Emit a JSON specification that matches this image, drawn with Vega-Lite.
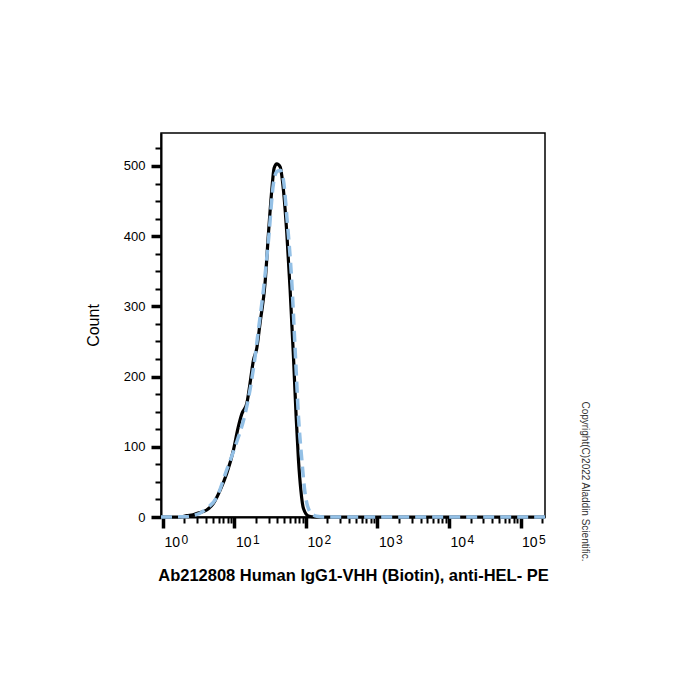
{
  "$schema": "https://vega.github.io/schema/vega-lite/v6.json",
  "width": 384,
  "height": 384,
  "autosize": "none",
  "padding": {"left": 161, "top": 133, "right": 155, "bottom": 183},
  "background": "white",
  "config": {
    "font": "Liberation Sans",
    "view": {"stroke": "black", "strokeWidth": 1.5}
  },
  "title": {
    "text": "Copyright(C)2022 Aladdin Scientific.",
    "orient": "right",
    "anchor": "end",
    "angle": 90,
    "fontSize": 10,
    "fontWeight": "normal",
    "font": "Liberation Sans",
    "color": "#333333",
    "offset": 28,
    "dx": -22
  },
  "datasets": {
    "black": [
      {"x": 0.94, "count": 0}, {"x": 1.73, "count": 0}, {"x": 2.17, "count": 2}, {"x": 2.63, "count": 3},
      {"x": 2.96, "count": 5}, {"x": 4.09, "count": 10}, {"x": 5.06, "count": 19}, {"x": 6.29, "count": 38},
      {"x": 7.8, "count": 62}, {"x": 9.66, "count": 95}, {"x": 11.3, "count": 128}, {"x": 12.7, "count": 147},
      {"x": 14.9, "count": 162}, {"x": 16.5, "count": 190}, {"x": 18.4, "count": 223}, {"x": 20.5, "count": 240},
      {"x": 22.8, "count": 276}, {"x": 26.8, "count": 333}, {"x": 29.9, "count": 404}, {"x": 33.3, "count": 466},
      {"x": 35.9, "count": 497}, {"x": 39.1, "count": 503}, {"x": 43.5, "count": 499}, {"x": 48.4, "count": 466},
      {"x": 54, "count": 404}, {"x": 60.1, "count": 323}, {"x": 66.9, "count": 228}, {"x": 72.9, "count": 143},
      {"x": 78.6, "count": 81}, {"x": 84.9, "count": 38}, {"x": 92.3, "count": 12}, {"x": 108, "count": 1.5},
      {"x": 135, "count": 0}, {"x": 220000, "count": 0}
    ],
    "blue": [
      {"x": 0.94, "count": 0}, {"x": 2.03, "count": 0.5}, {"x": 2.66, "count": 2}, {"x": 4.09, "count": 12},
      {"x": 5.65, "count": 28}, {"x": 7.8, "count": 67}, {"x": 10.2, "count": 100}, {"x": 14.1, "count": 147},
      {"x": 16.5, "count": 181}, {"x": 19.4, "count": 228}, {"x": 21.6, "count": 266}, {"x": 25.4, "count": 323},
      {"x": 29.9, "count": 394}, {"x": 35.1, "count": 475}, {"x": 39.1, "count": 492}, {"x": 43.5, "count": 494},
      {"x": 48.4, "count": 480}, {"x": 54, "count": 428}, {"x": 63.5, "count": 333}, {"x": 70.6, "count": 238},
      {"x": 78.6, "count": 143}, {"x": 87.6, "count": 81}, {"x": 97.4, "count": 33}, {"x": 115, "count": 7},
      {"x": 142, "count": 1}, {"x": 186, "count": 0}, {"x": 220000, "count": 0}
    ]
  },
  "resolve": {"axis": {"x": "independent", "y": "independent"}},
  "layer": [
    {
      "data": {"name": "black"},
      "mark": {"type": "line", "color": "black", "strokeWidth": 3.2, "interpolate": "monotone"},
      "encoding": {
        "x": {
          "field": "x", "type": "quantitative",
          "scale": {"type": "log", "domain": [0.94, 220000], "nice": false},
          "axis": {
            "orient": "bottom",
            "title": "Ab212808 Human IgG1-VHH (Biotin), anti-HEL- PE",
            "titleFontSize": 16.5,
            "titleFontWeight": "bold",
            "titleColor": "black",
            "titlePadding": 18,
            "values": [1, 2, 3, 4, 5, 6, 7, 8, 9, 10, 20, 30, 40, 50, 60, 70, 80, 90, 100, 200, 300, 400, 500, 600, 700, 800, 900, 1000, 2000, 3000, 4000, 5000, 6000, 7000, 8000, 9000, 10000, 20000, 30000, 40000, 50000, 60000, 70000, 80000, 90000, 100000, 200000],
            "labelExpr": "indexof([1,10,100,1000,10000,100000], datum.value) >= 0 ? '10' : ''",
            "labelAlign": "left",
            "labelBaseline": "top",
            "labelOffset": 1,
            "labelFontSize": 14,
            "labelColor": "black",
            "labelPadding": 7,
            "labelOverlap": false,
            "labelFlush": false,
            "tickColor": "black",
            "tickSize": {"condition": {"test": "indexof([1,10,100,1000,10000,100000], datum.value) >= 0", "value": 11}, "value": 6},
            "tickWidth": {"condition": {"test": "indexof([1,10,100,1000,10000,100000], datum.value) >= 0", "value": 3.5}, "value": 2},
            "domainColor": "black",
            "domainWidth": 2,
            "grid": false
          }
        },
        "y": {
          "field": "count", "type": "quantitative",
          "scale": {"domain": [0, 547], "nice": false, "zero": false},
          "axis": {
            "orient": "left",
            "title": "Count",
            "titleFontSize": 16,
            "titleFontWeight": "normal",
            "titleColor": "black",
            "titlePadding": 22,
            "values": [0, 25, 50, 75, 100, 125, 150, 175, 200, 225, 250, 275, 300, 325, 350, 375, 400, 425, 450, 475, 500, 525],
            "labelExpr": "datum.value % 100 == 0 ? datum.label : ''",
            "labelFontSize": 13,
            "labelColor": "black",
            "labelPadding": 6,
            "labelOverlap": false,
            "labelFlush": false,
            "tickColor": "black",
            "tickSize": {"condition": {"test": "datum.value % 100 == 0", "value": 10}, "value": 6},
            "tickWidth": {"condition": {"test": "datum.value % 100 == 0", "value": 3.5}, "value": 2},
            "domainColor": "black",
            "domainWidth": 2,
            "grid": false
          }
        }
      }
    },
    {
      "data": {"name": "blue"},
      "mark": {"type": "line", "color": "#93c0e6", "strokeWidth": 3.5, "strokeDash": [11, 6], "interpolate": "monotone"},
      "encoding": {
        "x": {
          "field": "x", "type": "quantitative",
          "axis": {
            "orient": "bottom",
            "title": null,
            "values": [1, 10, 100, 1000, 10000, 100000],
            "labelExpr": "format(log(datum.value) / LN10, '.0f')",
            "ticks": false,
            "domain": false,
            "grid": false,
            "labelAlign": "left",
            "labelBaseline": "top",
            "labelOffset": 18,
            "labelPadding": 17,
            "labelFontSize": 12,
            "labelColor": "black",
            "labelOverlap": false,
            "labelFlush": false
          }
        },
        "y": {"field": "count", "type": "quantitative", "axis": null}
      }
    }
  ]
}
